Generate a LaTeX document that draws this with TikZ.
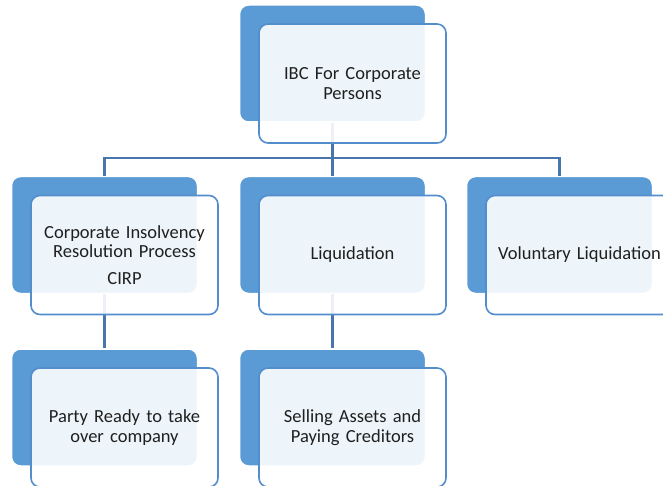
\documentclass[tikz,border=0pt]{standalone}
\usepackage{fontspec}
\setmainfont{Carlito}[WordSpace=0.7]
\usetikzlibrary{positioning}

\definecolor{backblue}{RGB}{91,155,213}
\definecolor{edgeblue}{RGB}{84,141,204}
\definecolor{linkblue}{RGB}{72,118,172}

\begin{document}
\begin{tikzpicture}[
        x=1pt, y=-1pt,
        back/.style={rectangle, draw=white, line width=1.5pt, fill=backblue,
                     minimum width=186pt, minimum height=117pt, rounded corners=9pt, inner sep=0pt},
        front/.style={rectangle, draw=edgeblue, line width=1.6pt, fill=white, fill opacity=0.9,
                      text opacity=1, minimum width=187pt, minimum height=119pt, rounded corners=9pt,
                      text width=184pt, align=center, inner sep=0pt, text=black!88,
                      font=\fontsize{18.5}{19.5}\selectfont},
        link/.style={draw=linkblue, line width=2.2pt}
    ]
        \clip (0,0) rectangle (663,486);
        \fill[white] (0,0) rectangle (663,486);

        \node[back] (ibcback) at (332.5,63.5) {};
        \node[back] (cirpback) at (104.5,235) {};
        \node[back] (liqback) at (332.5,235) {};
        \node[back] (volback) at (559.5,235) {};
        \node[back] (partyback) at (104.5,407.5) {};
        \node[back] (sellback) at (332.5,407.5) {};

        \draw[link] (ibcback.south) -- ++(0,35) -| (cirpback.north);
        \draw[link] (ibcback.south) -- ++(0,35) -| (liqback.north);
        \draw[link] (ibcback.south) -- ++(0,35) -| (volback.north);
        \draw[link] (cirpback.south) -- (partyback.north);
        \draw[link] (liqback.south) -- (sellback.north);

        \node[front] (ibc) at ([shift={(20,20)}]ibcback.center) {IBC For Corporate\\Persons};
        \node[front] (cirp) at ([shift={(20,20)}]cirpback.center) {Corporate Insolvency\\Resolution Process\\[7pt]CIRP};
        \node[front] (liq) at ([shift={(20,20)}]liqback.center) {Liquidation};
        \node[front] (vol) at ([shift={(20,20)}]volback.center) {Voluntary Liquidation};
        \node[front] (party) at ([shift={(20,20)}]partyback.center) {Party Ready to take\\over company};
        \node[front] (sell) at ([shift={(20,20)}]sellback.center) {Selling Assets and\\Paying Creditors};
    \end{tikzpicture}
\end{document}
